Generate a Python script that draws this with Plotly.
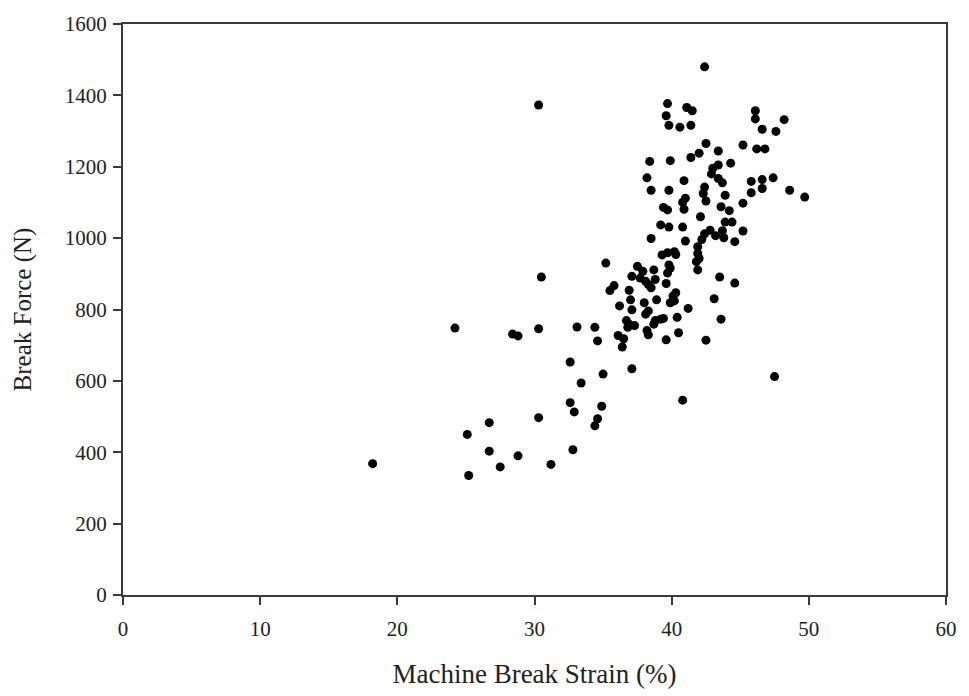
import plotly.graph_objects as go

# Machine break strain (%) and break force (N)
strain = [
    18.2, 24.2, 25.1, 25.2, 26.7, 26.7, 27.5, 28.4, 28.8, 28.8,
    30.3, 30.3, 30.3, 30.5, 31.2, 32.6, 32.6, 32.9, 32.8, 33.1,
    33.4, 34.4, 34.6, 35.0, 34.9, 34.6, 34.4, 35.2, 37.1, 40.8,
    47.5,
    42.4, 39.7, 39.6, 41.1, 41.5, 39.8, 40.6, 41.4, 46.1, 46.1,
    48.2, 46.6, 47.6, 42.5, 43.4, 45.2, 46.2, 46.8, 41.4, 42.0,
    38.4, 39.9, 44.3, 43.4, 43.0, 42.9, 38.2, 40.9, 43.4, 43.7,
    45.8, 46.6, 46.6, 47.4, 48.6, 49.7, 38.5, 39.8, 42.4, 42.3,
    42.5, 43.9, 45.8, 41.0, 40.8, 40.9, 39.4, 39.7, 43.6, 44.2,
    45.2, 42.1, 39.2, 39.8, 40.8, 38.5, 41.0,
    41.9, 42.2, 42.4, 42.8, 43.2, 43.7, 43.8, 43.9, 44.4, 44.6,
    45.2,
    39.3, 39.7, 40.2, 40.3, 41.9, 42.0, 41.8, 41.9, 39.8, 39.9,
    39.7, 39.6, 43.5, 44.6, 43.1, 43.6, 41.2, 42.5, 40.5, 40.4,
    39.6, 40.3, 40.1, 40.2, 39.9,
    37.5, 37.9, 37.1, 37.7, 38.1, 38.3, 38.7, 38.8, 38.5, 36.9,
    35.8, 35.5,
    36.2, 37.0, 37.1, 38.0, 38.1, 38.3, 38.9, 36.7, 36.9, 37.3,
    36.8, 38.8, 39.2, 39.4, 38.7, 36.1, 36.5, 36.4, 38.2, 38.3,
]
force = [
    368, 748, 450, 335, 483, 403, 359, 731, 726, 390,
    1373, 746, 497, 891, 366, 653, 539, 513, 407, 751,
    594, 750, 712, 619, 529, 494, 474, 930, 634, 546,
    612,
    1480, 1377, 1343, 1366, 1357, 1316, 1311, 1316, 1357, 1334,
    1332, 1305, 1299, 1265, 1244, 1261, 1250, 1250, 1226, 1238,
    1215, 1217, 1210, 1205, 1196, 1180, 1169, 1161, 1167, 1155,
    1159, 1164, 1139, 1169, 1134, 1115, 1134, 1134, 1143, 1125,
    1104, 1120, 1127, 1112, 1100, 1081, 1086, 1079, 1088, 1077,
    1098, 1060, 1037, 1031, 1031, 999, 992,
    976, 996, 1012, 1022, 1007, 1021, 1001, 1045, 1045, 990,
    1020,
    953, 959, 962, 954, 957, 943, 934, 911, 925, 916,
    902, 873, 891, 874, 830, 773, 803, 714, 735, 778,
    715, 847, 838, 824, 819,
    921, 907, 893, 888, 879, 870, 911, 884, 861, 854,
    867, 853,
    810, 827, 799, 819, 787, 796, 827, 769, 759, 755,
    750, 769, 773, 775, 759, 727, 718, 695, 741, 729,
]

x_ticks = [0, 10, 20, 30, 40, 50, 60]
y_ticks = [0, 200, 400, 600, 800, 1000, 1200, 1400, 1600]

fig = go.Figure()
fig.add_trace(go.Scatter(
    x=strain, y=force, mode="markers",
    marker=dict(size=9, color="black", line=dict(width=0)),
    showlegend=False, hoverinfo="x+y",
))

axis_common = dict(
    showgrid=False, zeroline=False, showline=True, linecolor="#3a3a3a",
    linewidth=2, mirror=True, ticks="outside", ticklen=8, tickwidth=1.5,
    tickcolor="#3a3a3a",
    tickfont=dict(family="Liberation Serif", size=21, color="#222"),
)

fig.update_layout(
    width=969, height=696,
    margin=dict(l=123, r=14, t=14, b=99),
    paper_bgcolor="white", plot_bgcolor="white",
    font=dict(family="Liberation Serif", color="#222"),
    xaxis=dict(
        range=[0, 60], tickvals=x_ticks, ticklabelstandoff=6,
        title=dict(text="Machine Break Strain (%)",
                   font=dict(family="Liberation Serif", size=27, color="#222"),
                   standoff=24),
        **axis_common,
    ),
    yaxis=dict(
        range=[0, 1600], tickvals=y_ticks, ticklabelstandoff=2,
        title=dict(text="Break Force (N)",
                   font=dict(family="Liberation Serif", size=25, color="#222"),
                   standoff=26),
        **axis_common,
    ),
)

fig.write_html("out.html")
